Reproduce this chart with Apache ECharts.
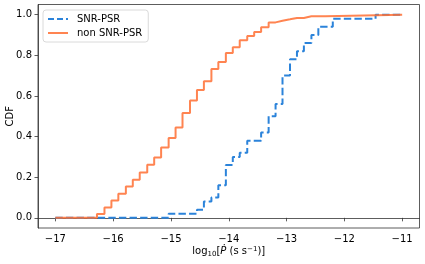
<!DOCTYPE html>
<html><head><meta charset="utf-8">
<script src="https://cdn.jsdelivr.net/npm/echarts@6/dist/echarts.min.js"></script>
<style>html,body{margin:0;padding:0;background:#fff}#c{width:425px;height:264px}</style>
</head><body><div id="c"></div>
<script>
// Step positions (log10 Pdot)
const snrX = [-17, -15.04, -14.55, -14.43, -14.30, -14.18, -14.05, -13.93, -13.81, -13.68, -13.44, -13.31, -13.19, -13.07, -12.94, -12.82, -12.70, -12.57, -12.45, -12.20, -11.46, -11];
const snrCDF = [0, 0.02, 0.04, 0.08, 0.10, 0.16, 0.26, 0.30, 0.32, 0.38, 0.42, 0.50, 0.56, 0.70, 0.78, 0.82, 0.86, 0.90, 0.94, 0.98, 1.0, 1.0];
const nonX = [-17, -16.28, -16.15, -16.03, -15.91, -15.78, -15.66, -15.54, -15.41, -15.29, -15.17, -15.04, -14.92, -14.80, -14.67, -14.55, -14.43, -14.30, -14.18, -14.05, -13.93, -13.81, -13.68, -13.56, -13.44, -13.31, -13.19, -13.07, -12.94, -12.82, -12.70, -12.57, -12.45, -12.33, -11];
const nonCDF = [0, 0.019, 0.051, 0.085, 0.118, 0.154, 0.187, 0.223, 0.261, 0.297, 0.346, 0.393, 0.445, 0.516, 0.578, 0.629, 0.672, 0.732, 0.767, 0.811, 0.839, 0.874, 0.895, 0.915, 0.938, 0.962, 0.970, 0.977, 0.984, 0.984, 0.992, 0.992, 0.992, 1.0, 1.0];
const xTicks = [-17, -16, -15, -14, -13, -12, -11];
const yTicks = [0, 0.2, 0.4, 0.6, 0.8, 1.0];
const seriesNames = ['SNR-PSR', 'non SNR-PSR'];

const FONT = 'DejaVu Sans';
const BLUE = '#2b83da', ORANGE = '#ff6e32';
const chart = echarts.init(document.getElementById('c'), null, {renderer: 'canvas'});
const zip = (xs, ys) => xs.map((x, i) => [x, ys[i]]);
chart.setOption({
  animation: false,
  textStyle: {fontFamily: FONT},
  grid: {left: 38, right: 5.5, top: 4.5, bottom: 36, containLabel: false, outerBoundsMode: 'none',
         show: true, borderColor: '#333', borderWidth: 0.8, backgroundColor: 'transparent'},
  legend: {
    left: 43, top: 10, orient: 'vertical',
    data: [
      {name: seriesNames[0], itemStyle: {opacity: 0}, lineStyle: {color: BLUE, width: 2, type: [6, 3]}},
      {name: seriesNames[1], itemStyle: {opacity: 0}, lineStyle: {color: ORANGE, width: 2}}
    ],
    itemWidth: 20, itemHeight: 10, itemGap: 4,
    padding: [4, 6, 4, 4],
    borderColor: '#d0d0d0', borderWidth: 0.8, borderRadius: 3,
    backgroundColor: 'rgba(255,255,255,0.8)',
    textStyle: {fontFamily: FONT, fontSize: 10, color: '#000', padding: [0, 0, 0, 4]}
  },
  xAxis: {
    type: 'value', min: -17.3, max: -10.7,
    name: 'log{sub|10}[{it|Ṗ} (s s{sup|−1})]',
    nameLocation: 'middle', nameGap: 17, nameMoveOverlap: false,
    nameTextStyle: {fontFamily: FONT, fontSize: 10, color: '#000',
      rich: {sub: {fontSize: 7, fontFamily: FONT, padding: [6, 0, 0, 0]},
             sup: {fontSize: 7, fontFamily: FONT, padding: [0, 0, 5, 0]},
             it: {fontSize: 10, fontFamily: FONT, fontStyle: 'italic'}}},
    axisLine: {show: true, lineStyle: {color: '#333', width: 0.8}},
    axisTick: {show: true, length: 3.5, lineStyle: {color: '#333', width: 0.8}, customValues: xTicks},
    axisLabel: {fontSize: 10, color: '#000', margin: 6, customValues: xTicks,
      formatter: v => (v < 0 ? '−' : '') + Math.abs(v)},
    splitLine: {show: false}
  },
  yAxis: {
    type: 'value', min: -0.05, max: 1.05,
    name: 'CDF', nameLocation: 'middle', nameGap: 23, nameRotate: 90, nameMoveOverlap: false,
    nameTextStyle: {fontFamily: FONT, fontSize: 10, color: '#000'},
    axisLine: {show: true, lineStyle: {color: '#333', width: 0.8}},
    axisTick: {show: true, length: 3.5, lineStyle: {color: '#333', width: 0.8}, customValues: yTicks},
    axisLabel: {fontSize: 10, color: '#000', margin: 6, customValues: yTicks,
      formatter: v => v.toFixed(1)},
    splitLine: {show: false}
  },
  series: [
    {name: seriesNames[0], type: 'line', step: 'end', symbol: 'none', z: 2,
     data: zip(snrX, snrCDF),
     itemStyle: {color: BLUE},
     lineStyle: {color: BLUE, width: 2, type: [7.4, 3.2]}},
    {name: seriesNames[1], type: 'line', step: 'end', symbol: 'none', z: 3,
     data: zip(nonX, nonCDF),
     itemStyle: {color: ORANGE},
     lineStyle: {color: ORANGE, width: 2, opacity: 0.85}}
  ]
});
</script></body></html>
